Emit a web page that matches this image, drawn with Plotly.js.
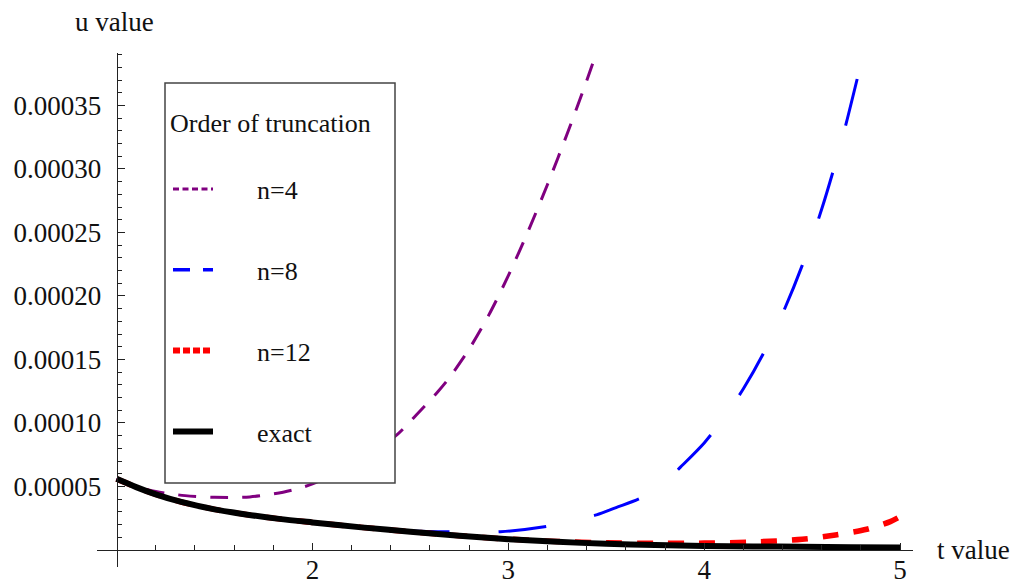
<!DOCTYPE html>
<html><head><meta charset="utf-8">
<script src="https://cdn.plot.ly/plotly-3.0.1.min.js"></script>
<style>html,body{margin:0;padding:0;background:#fff;} #chart{width:1013px;height:584px;}</style>
</head><body><div id="chart"></div>
<script>
// ---- data ----
const tExact = [1, 1.1, 1.2, 1.33, 1.5, 1.66, 1.83, 2, 2.25, 2.5, 2.75, 3, 3.25, 3.5, 3.75, 4, 4.25, 4.5, 4.75, 5];
const uExact = [5.6e-5, 4.95e-5, 4.38e-5, 3.78e-5, 3.2e-5, 2.8e-5, 2.45e-5, 2.17e-5, 1.78e-5, 1.44e-5, 1.12e-5, 8.5e-6, 6.4e-6, 4.9e-6, 3.9e-6, 3.2e-6, 2.8e-6, 2.5e-6, 2.2e-6, 2.0e-6];

const tN4 = [1, 1.1, 1.2, 1.35, 1.5, 1.68, 1.85, 2.0, 2.2, 2.42, 2.53, 2.64, 2.7, 2.8, 2.9, 3.0, 3.1, 3.2, 3.3, 3.4, 3.44];
const uN4 = [5.6e-5, 5.0e-5, 4.6e-5, 4.28e-5, 4.15e-5, 4.18e-5, 4.55e-5, 5.2e-5, 6.7e-5, 8.92e-5, 1.063e-4, 1.246e-4, 1.359e-4, 1.582e-4, 1.849e-4, 2.16e-4, 2.506e-4, 2.878e-4, 3.275e-4, 3.695e-4, 3.87e-4];

const tN8 = [1, 1.1, 1.2, 1.33, 1.5, 1.66, 1.83, 2, 2.25, 2.5, 2.75, 2.96, 3.21, 3.45, 3.55, 3.67, 3.78, 3.88, 4.0, 4.1, 4.2, 4.3, 4.4, 4.5, 4.6, 4.7, 4.8];
const uN8 = [5.6e-5, 4.95e-5, 4.38e-5, 3.78e-5, 3.2e-5, 2.8e-5, 2.45e-5, 2.17e-5, 1.79e-5, 1.5e-5, 1.42e-5, 1.44e-5, 1.89e-5, 2.76e-5, 3.34e-5, 4.05e-5, 5.05e-5, 6.54e-5, 8.43e-5, 1.039e-4, 1.269e-4, 1.541e-4, 1.861e-4, 2.239e-4, 2.684e-4, 3.211e-4, 3.829e-4];

const tN12 = [1, 1.1, 1.2, 1.33, 1.5, 1.66, 1.83, 2, 2.25, 2.5, 2.75, 3, 3.25, 3.5, 3.75, 4, 4.25, 4.5, 4.67, 4.83, 4.95, 5];
const uN12 = [5.6e-5, 4.95e-5, 4.38e-5, 3.78e-5, 3.2e-5, 2.8e-5, 2.45e-5, 2.17e-5, 1.78e-5, 1.44e-5, 1.12e-5, 8.6e-6, 6.7e-6, 5.6e-6, 5.3e-6, 5.4e-6, 6.3e-6, 8.4e-6, 1.18e-5, 1.63e-5, 2.23e-5, 2.62e-5];

const seriesNames = ['n=4', 'n=8', 'n=12', 'exact'];
const legendTitle = 'Order of truncation';
const xTickVals = [2, 3, 4, 5];
const yTickVals = [0.00005, 0.00010, 0.00015, 0.00020, 0.00025, 0.00030, 0.00035];
const xAxisTitle = 't value';
const yAxisTitle = 'u value';

// ---- layout geometry ----
const xRange = [0.9, 5.066];
const yRange = [-1.34e-5, 3.913e-4];
const xMinor = [], yMinor = [];
for (let i = 6; i <= 24; i++) if (i % 5 !== 0) xMinor.push(i / 5);
for (let i = 1; i <= 39; i++) if (i % 5 !== 0) yMinor.push(i * 1e-5);

const serif = 'Liberation Serif, Times New Roman, serif';
const txt = '#111';
const pad = '\u00a0\u00a0\u00a0\u00a0\u00a0\u00a0';

const styles = [
  {color: '#800080', width: 3, dash: '18px,14px', ldash: '6px,3.5px', lwidth: 3},
  {color: '#0000ff', width: 3, dash: '48px,49px', ldash: '17px,13px', lwidth: 3.5},
  {color: '#ff0000', width: 5.5, dash: '16px,15px', ldash: '7px,3px', lwidth: 6},
  {color: '#000000', width: 6, dash: 'solid', ldash: 'solid', lwidth: 6}
];
const xs = [tN4, tN8, tN12, tExact];
const ys = [uN4, uN8, uN12, uExact];

const traces = [];
for (let i = 0; i < 4; i++) {
  traces.push({
    type: 'scatter', mode: 'lines', x: xs[i], y: ys[i], name: seriesNames[i],
    showlegend: false,
    line: {color: styles[i].color, width: styles[i].width, dash: styles[i].dash, shape: 'spline', smoothing: 0.8}
  });
}
for (let i = 0; i < 4; i++) {
  traces.push({
    type: 'scatter', mode: 'lines', x: [null], y: [null], name: pad + seriesNames[i],
    legendgroup: 'g' + i, showlegend: true,
    line: {color: styles[i].color, width: styles[i].lwidth, dash: styles[i].ldash}
  });
}

const L = 97, R = 100, T = 53, B = 17, W = 1013, H = 584;
const pw = W - L - R, ph = H - T - B;
const px2paperX = p => (p - L) / pw;
const py2paperY = p => (H - B - p) / ph;

const axisCommon = {
  showgrid: false, zeroline: false, showline: true, linecolor: '#222', linewidth: 1.2,
  ticks: 'inside', ticklen: 7, tickwidth: 1, tickcolor: '#222',
  tickfont: {family: serif, size: 27, color: txt},
  tickmode: 'array', anchor: 'free'
};

const layout = {
  width: W, height: H,
  margin: {l: L, r: R, t: T, b: B, pad: 0},
  paper_bgcolor: '#fff', plot_bgcolor: '#fff',
  showlegend: true,
  xaxis: Object.assign({}, axisCommon, {
    range: xRange, tickvals: xTickVals, ticktext: xTickVals.map(String),
    position: (0 - yRange[0]) / (yRange[1] - yRange[0]),
    ticklabelstandoff: -5,
    minor: {tickmode: 'array', tickvals: xMinor, ticks: 'inside', ticklen: 4.5, tickwidth: 1, tickcolor: '#222', showgrid: false}
  }),
  yaxis: Object.assign({}, axisCommon, {
    range: yRange, tickvals: yTickVals, tickformat: '.5f',
    position: (1 - xRange[0]) / (xRange[1] - xRange[0]),
    ticklabelstandoff: 10,
    minor: {tickmode: 'array', tickvals: yMinor, ticks: 'inside', ticklen: 4, tickwidth: 1, tickcolor: '#222', showgrid: false}
  }),
  legend: {
    x: px2paperX(168), y: py2paperY(98), xanchor: 'left', yanchor: 'top',
    bgcolor: 'rgba(0,0,0,0)', borderwidth: 0,
    font: {family: serif, size: 26, color: txt},
    title: {text: legendTitle + '<br> ', font: {family: serif, size: 26, color: txt}},
    tracegroupgap: 44, itemwidth: 40
  },
  shapes: [{
    type: 'rect', xref: 'paper', yref: 'paper', layer: 'above',
    x0: px2paperX(165), x1: px2paperX(395), y0: py2paperY(483), y1: py2paperY(83),
    fillcolor: '#fff', line: {color: '#444', width: 1.5}
  }],
  annotations: [
    {text: yAxisTitle, xref: 'paper', yref: 'paper', x: px2paperX(114), y: py2paperY(22), xanchor: 'center', yanchor: 'middle', showarrow: false, font: {family: serif, size: 27, color: txt}},
    {text: xAxisTitle, xref: 'paper', yref: 'paper', x: px2paperX(935), y: py2paperY(550), xanchor: 'left', yanchor: 'middle', showarrow: false, font: {family: serif, size: 27, color: txt}}
  ]
};

Plotly.newPlot('chart', traces, layout, {displayModeBar: false, staticPlot: true});
</script>
</body></html>
